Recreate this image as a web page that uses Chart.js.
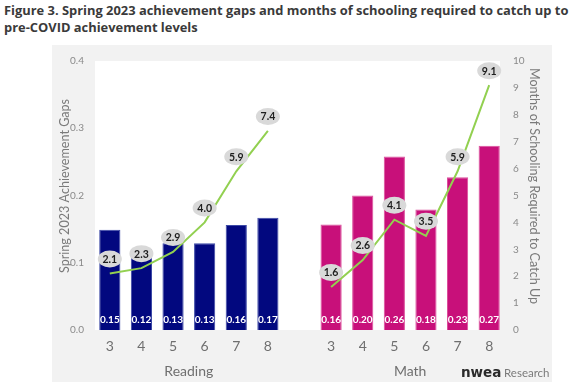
<!DOCTYPE html>
<html>
<head>
<meta charset="utf-8">
<script src="https://cdn.jsdelivr.net/npm/chart.js@4.4.1/dist/chart.umd.min.js"></script>
<style>
  html, body { margin: 0; padding: 0; background: #ffffff; width: 581px; height: 387px; overflow: hidden; }
  #title { position: absolute; left: 4px; top: 2px; width: 578px; font-family: "Open Sans", "DejaVu Sans", sans-serif; font-weight: 700; font-size: 12.9px; line-height: 17px; color: #3a3a3a; white-space: nowrap; }
  #panel { position: absolute; left: 52px; top: 45px; width: 500px; height: 337px; background: #f2f2f2; }
  #wrap { position: absolute; left: 0; top: 0; width: 500px; height: 337px; }
</style>
</head>
<body>
<div id="title">Figure 3. Spring 2023 achievement gaps and months of schooling required to catch up to<br>pre-COVID achievement levels</div>
<div id="panel"><div id="wrap"><canvas id="c"></canvas></div></div>
<script>
// ---- data ----
const grades = ['3', '4', '5', '6', '7', '8'];
const subjects = ['Reading', 'Math'];
const readingGap = [0.149, 0.12, 0.129, 0.129, 0.156, 0.167];
const mathGap = [0.157, 0.20, 0.258, 0.179, 0.227, 0.274];
const readingMonths = [2.1, 2.3, 2.9, 4.0, 5.9, 7.4];
const mathMonths = [1.6, 2.6, 4.1, 3.5, 5.9, 9.1];
const leftTicks = [0.0, 0.1, 0.2, 0.3, 0.4];
const rightTicks = [0, 1, 2, 3, 4, 5, 6, 7, 8, 9, 10];
const leftTitle = 'Spring 2023 Achievement Gaps';
const rightTitle = 'Months of Schooling Required to Catch Up';

// ---- build ----
const labels = [...grades, '', ...grades];
const gapData = [...readingGap, null, ...mathGap];
const monthData = [...readingMonths, null, ...mathMonths];
const READ_COL = '#02087f', MATH_COL = '#c8107a';
const barColors = labels.map((_, i) => i < grades.length ? READ_COL : MATH_COL);
const barBorders = labels.map((_, i) => i < grades.length ? '#3c49a6' : '#dc4f9c');
const FONT = 'Lato, "Open Sans", sans-serif';

const decor = {
  id: 'decor',
  beforeDraw(chart) {
    const {ctx, chartArea: a} = chart;
    ctx.save();
    ctx.fillStyle = '#ffffff';
    ctx.fillRect(a.left + 1, a.top, a.right - a.left - 6, a.bottom - a.top);
    ctx.restore();
  },
  afterDatasetsDraw(chart) {
    const {ctx, chartArea: a, scales} = chart;
    const barMeta = chart.getDatasetMeta(0);
    const lineMeta = chart.getDatasetMeta(1);
    ctx.save();
    // bar value labels
    ctx.font = '700 10px ' + FONT;
    ctx.fillStyle = '#ffffff';
    ctx.textAlign = 'center';
    ctx.textBaseline = 'middle';
    barMeta.data.forEach((el, i) => {
      const v = gapData[i];
      if (v == null) return;
      ctx.fillText(v.toFixed(2), el.x, el.base - 10);
    });
    // month bubbles
    lineMeta.data.forEach((pt, i) => {
      const v = monthData[i];
      if (v == null) return;
      const cx = pt.x, cy = pt.y - 14.5;
      ctx.fillStyle = '#d9d9d9';
      ctx.beginPath();
      ctx.ellipse(cx, cy, 12, 8.5, 0, 0, Math.PI * 2);
      ctx.fill();
      ctx.fillStyle = '#1e1e1e';
      ctx.font = '700 10.5px ' + FONT;
      ctx.fillText(v.toFixed(1), cx, cy + 0.5);
    });
    // group labels
    const x = scales.x;
    ctx.fillStyle = '#6f6f6f';
    ctx.font = '14px ' + FONT;
    const n = grades.length;
    const rx = (x.getPixelForValue(0) + x.getPixelForValue(n - 1)) / 2;
    const mx = (x.getPixelForValue(n + 1) + x.getPixelForValue(2 * n)) / 2;
    ctx.fillText(subjects[0], rx, 326);
    ctx.fillText(subjects[1], mx, 326);
    // axis titles
    const ty = (a.top + a.bottom) / 2 - 9.5;
    ctx.font = '12.6px ' + FONT;
    ctx.fillStyle = '#7a7a7a';
    ctx.save();
    ctx.translate(13, ty);
    ctx.rotate(-Math.PI / 2);
    ctx.fillText(leftTitle, 0, 0);
    ctx.restore();
    ctx.save();
    ctx.translate(chart.width - 18, ty);
    ctx.rotate(Math.PI / 2);
    ctx.fillText(rightTitle, 0, 0);
    ctx.restore();
    // logo
    ctx.textAlign = 'left';
    ctx.textBaseline = 'alphabetic';
    ctx.font = '900 13.5px "DejaVu Sans", sans-serif';
    ctx.fillStyle = '#2a2a2a';
    ctx.fillText('nwea', 409, 332);
    ctx.font = '11.5px ' + FONT;
    ctx.fillStyle = '#7a7a7a';
    ctx.fillText('Research', 452, 332);
    ctx.restore();
  }
};

new Chart(document.getElementById('c'), {
  data: {
    labels: labels,
    datasets: [
      {
        type: 'bar',
        label: 'Achievement gap',
        data: gapData,
        backgroundColor: barColors,
        borderColor: barBorders,
        borderWidth: 1,
        barPercentage: 0.67,
        categoryPercentage: 1.0,
        yAxisID: 'y',
        order: 2
      },
      {
        type: 'line',
        label: 'Months',
        data: monthData,
        borderColor: '#92d050',
        borderWidth: 2,
        pointRadius: 0,
        tension: 0,
        spanGaps: false,
        yAxisID: 'y1',
        order: 1
      }
    ]
  },
  options: {
    responsive: true,
    maintainAspectRatio: false,
    animation: false,
    events: [],
    layout: { padding: { top: 15.5, left: 0, right: 0, bottom: 0 } },
    plugins: { legend: { display: false }, tooltip: { enabled: false } },
    scales: {
      x: {
        grid: { display: false, drawTicks: false },
        border: { display: false },
        ticks: { color: '#6f6f6f', font: { family: FONT, size: 14 }, padding: 8, maxRotation: 0, autoSkip: false },
        afterFit: s => { s.height = 52; }
      },
      y: {
        position: 'left',
        min: 0, max: 0.4,
        grid: { display: false, drawTicks: false },
        border: { display: false },
        afterBuildTicks: s => { s.ticks = leftTicks.map(v => ({ value: v })); },
        ticks: { color: '#8a8a8a', font: { family: FONT, size: 10 }, padding: 10, callback: v => v.toFixed(1) },
        afterFit: s => { s.width = 42; }
      },
      y1: {
        position: 'right',
        min: 0, max: 10,
        grid: { display: false, drawTicks: false },
        border: { display: false },
        afterBuildTicks: s => { s.ticks = rightTicks.map(v => ({ value: v })); },
        ticks: { color: '#8a8a8a', font: { family: FONT, size: 10 }, padding: 8 },
        afterFit: s => { s.width = 47; }
      }
    }
  },
  plugins: [decor]
});
</script>
</body>
</html>
